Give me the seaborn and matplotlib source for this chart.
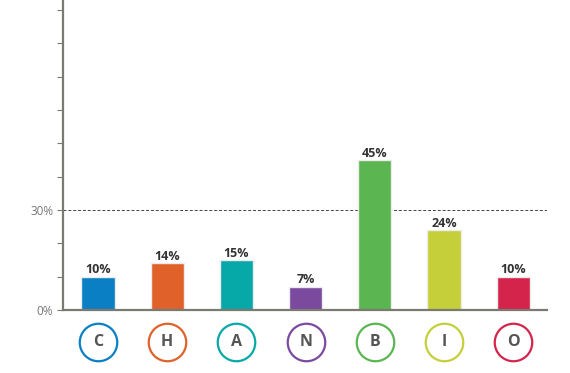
import matplotlib
matplotlib.use("Agg")
import matplotlib.pyplot as plt
import matplotlib.transforms as mtransforms
import seaborn as sns
import pandas as pd

categories = ["C", "H", "A", "N", "B", "I", "O"]
values = [10, 14, 15, 7, 45, 24, 10]
labels = ["10%", "14%", "15%", "7%", "45%", "24%", "10%"]
colors = ["#0a7fc4", "#e0622a", "#06a9a8", "#7b4a9f", "#5bb551", "#c4cf3a", "#d4244c"]
ytick_vals = [0, 30]
ytick_labels = ["0%", "30%"]
reference = 30

sns.set_style("white")
plt.rcParams['font.family'] = ['Open Sans', 'DejaVu Sans']

df = pd.DataFrame({"cat": categories, "val": values})
fig = plt.figure(figsize=(5.7, 3.73), dpi=100)
ax = fig.add_axes([0.1105, 0.169, 0.8495, 0.831])

sns.barplot(data=df, x="cat", y="val", hue="cat", palette=colors, order=categories,
            width=0.48, legend=False, ax=ax, edgecolor="#ececec", linewidth=1.0, saturation=1)

ax.set_xlim(-0.506, 6.49)
ax.set_ylim(0, 93)
ax.axhline(reference, color="#444444", linestyle=(0, (3, 2)), linewidth=0.7, zorder=0)

for i, (v, lab) in enumerate(zip(values, labels)):
    ax.text(i, v + 0.1, lab, ha="center", va="bottom", fontsize=9, fontweight="bold",
            color="#333333")

ax.set_yticks(ytick_vals)
ax.set_yticklabels(ytick_labels, color="#777777", fontsize=8.5)
ax.set_yticks(range(10, 91, 10), minor=True)
ax.tick_params(axis="y", which="both", left=True, length=4, width=0.8, color="#7a7a70", pad=3)
ax.tick_params(axis="x", bottom=False, labelbottom=False)
ax.set_xlabel("")
ax.set_ylabel("")
for s in ["top", "right"]:
    ax.spines[s].set_visible(False)
for s in ["left", "bottom"]:
    ax.spines[s].set_color("#7a7a70")
    ax.spines[s].set_linewidth(1.6)

trans = mtransforms.blended_transform_factory(ax.transData, ax.transAxes)
for i, (c, col) in enumerate(zip(categories, colors)):
    ax.plot([i], [-0.102], marker="o", markersize=27, markerfacecolor="white",
            markeredgecolor=col, markeredgewidth=1.6, transform=trans, clip_on=False)
    ax.text(i, -0.102, c, transform=trans, ha="center", va="center", fontsize=11.5,
            fontweight="bold", color="#555555")

fig.savefig("out.png", dpi=100)
